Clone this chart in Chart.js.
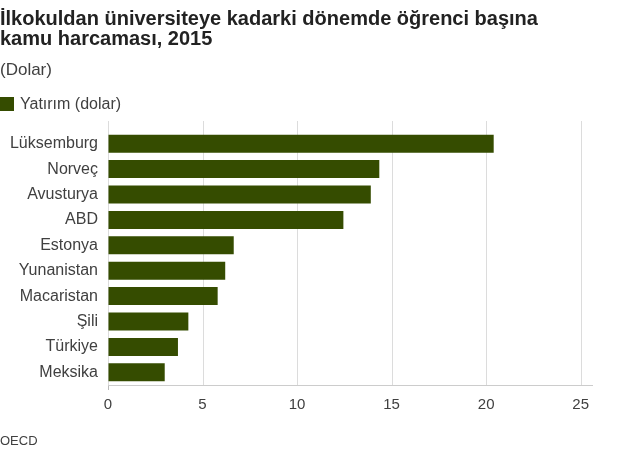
<!DOCTYPE html>
<html>
<head>
<meta charset="utf-8">
<script src="https://cdn.jsdelivr.net/npm/chart.js@4"></script>
<style>
  body { margin: 0; background: #fff; font-family: "Liberation Sans", Arial, sans-serif; }
  #wrap { position: relative; width: 624px; height: 451px; overflow: hidden; }
  #wrap canvas { position: absolute; left: 0; top: 0; }
  .txt { position: absolute; left: 0; white-space: nowrap; }
  #title { top: 8px; font-size: 20px; line-height: 20px; font-weight: bold; color: #222; }
  #sub { top: 60px; font-size: 17px; line-height: 20px; color: #404040; }
  #legend { top: 95px; font-size: 16px; line-height: 18px; color: #404040; }
  #legend span { position: absolute; left: 0; top: 2px; width: 14px; height: 14px; }
  #legend b { font-weight: normal; margin-left: 20px; }
  #source { top: 433px; font-size: 13px; line-height: 15px; color: #404040; }
</style>
</head>
<body>
<div id="wrap">
  <canvas id="myChart" width="624" height="451"></canvas>
  <div class="txt" id="title">İlkokuldan üniversiteye kadarki dönemde öğrenci başına<br>kamu harcaması, 2015</div>
  <div class="txt" id="sub">(Dolar)</div>
  <div class="txt" id="legend"><span id="legendBox"></span><b id="legendText"></b></div>
  <div class="txt" id="source">OECD</div>
</div>
<script>
const countries = ['Lüksemburg', 'Norveç', 'Avusturya', 'ABD', 'Estonya', 'Yunanistan', 'Macaristan', 'Şili', 'Türkiye', 'Meksika'];
const spending = [20.4, 14.35, 13.9, 12.45, 6.65, 6.2, 5.8, 4.25, 3.7, 3.0];
const xTicks = [0, 5, 10, 15, 20, 25];
const seriesName = 'Yatırım (dolar)';

const BAR_COLOR = '#354c00';
const GRID_COLOR = '#dcdcdc';
const TEXT_COLOR = '#404040';

document.getElementById('legendBox').style.background = BAR_COLOR;
document.getElementById('legendText').textContent = seriesName;

// vertical gridlines, starting a bit above the first bar
const gridLines = {
  id: 'gridLines',
  beforeDatasetsDraw(chart) {
    const {ctx, chartArea, scales} = chart;
    ctx.save();
    ctx.strokeStyle = GRID_COLOR;
    ctx.lineWidth = 1;
    xTicks.forEach(v => {
      const x = Math.round(scales.x.getPixelForValue(v)) + 0.5;
      ctx.beginPath();
      ctx.moveTo(x, chartArea.top - 10);
      ctx.lineTo(x, chartArea.bottom);
      ctx.stroke();
    });
    ctx.restore();
  }
};

const ctxt = document.getElementById('myChart').getContext('2d');
const myChart = new Chart(ctxt, {
  type: 'bar',
  data: {
    labels: countries,
    datasets: [{
      label: seriesName,
      data: spending,
      backgroundColor: BAR_COLOR,
      borderWidth: 0,
      categoryPercentage: 1,
      barPercentage: 0.71
    }]
  },
  options: {
    indexAxis: 'y',
    responsive: false,
    animation: false,
    layout: { padding: { top: 131, right: 32, bottom: 31, left: 0 } },
    plugins: {
      legend: { display: false },
      tooltip: { enabled: false }
    },
    scales: {
      x: {
        min: 0,
        max: 25.6,
        afterBuildTicks: (scale) => { scale.ticks = xTicks.map(v => ({ value: v })); },
        ticks: {
          color: TEXT_COLOR,
          font: { family: '"Liberation Sans", Arial', size: 15 },
          padding: 6,
          maxRotation: 0
        },
        grid: {
          drawOnChartArea: false,
          tickLength: 5,
          tickColor: (c) => (c.tick && c.tick.value === 0 ? '#bbbbbb' : 'rgba(0,0,0,0)')
        },
        border: { display: true, color: '#cccccc' }
      },
      y: {
        afterFit: (scale) => { scale.width = 108; },
        ticks: {
          color: TEXT_COLOR,
          font: { family: '"Liberation Sans", Arial', size: 16 },
          padding: 2
        },
        grid: { display: false },
        border: { display: false }
      }
    }
  },
  plugins: [gridLines]
});
</script>
</body>
</html>
